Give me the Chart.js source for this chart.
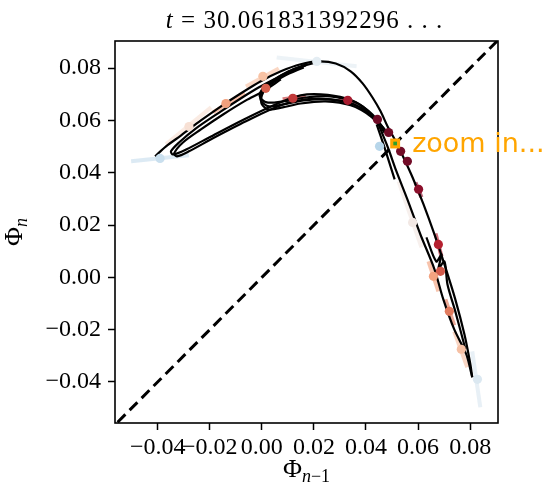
<!DOCTYPE html>
<html>
<head>
<meta charset="utf-8">
<script src="https://cdn.jsdelivr.net/npm/chart.js@4.4.1/dist/chart.umd.min.js"></script>
<style>
  html, body { margin: 0; padding: 0; background: #fff; }
  #wrap { width: 549px; height: 490px; }
</style>
</head>
<body>
<div id="wrap"><canvas id="chart" width="549" height="490"></canvas></div>
<script>
// axis ranges and ticks
const xRange = [-0.0564, 0.0907];
const yRange = [-0.0557, 0.0904];
const xTicks = [-0.04, -0.02, 0, 0.02, 0.04, 0.06, 0.08];
const yTicks = [-0.04, -0.02, 0, 0.02, 0.04, 0.06, 0.08];
const titleTime = '30.061831392296';

// black trajectory strands, [x, y] pairs
const strandOuter = [
  [-0.0410,0.0463],[-0.0368,0.0501],[-0.0310,0.0543],[-0.0234,0.0600],[-0.0157,0.0654],
  [-0.0080,0.0704],[-0.0004,0.0750],[0.0073,0.0788],[0.0149,0.0815],[0.0218,0.0826],
  [0.0284,0.0818],[0.0341,0.0788],[0.0387,0.0742],[0.0425,0.0688],[0.0456,0.0635],
  [0.0483,0.0577],[0.0510,0.0528],[0.0540,0.0467],[0.0579,0.0382],[0.0621,0.0279],
  [0.0663,0.0164],[0.0705,0.0038],[0.0743,-0.0084],[0.0778,-0.0218],[0.0801,-0.0333],
  [0.0808,-0.0382]
];
const strandReturn = [
  [0.0808,-0.0382],[0.0785,-0.0294],[0.0739,-0.0199],[0.0697,-0.0084],[0.0663,0.0031],
  [0.0609,0.0164],[0.0559,0.0298],[0.0517,0.0405],[0.0487,0.0489],[0.0467,0.0539],
  [0.0441,0.0597],[0.0387,0.0654],[0.0322,0.0685],[0.0226,0.0700],[0.0149,0.0696],
  [0.0061,0.0665],[-0.0069,0.0604],[-0.0195,0.0539],[-0.0291,0.0489],[-0.0341,0.0470],
  [-0.0349,0.0482],[-0.0318,0.0516],[-0.0253,0.0570],[-0.0157,0.0635],[-0.0080,0.0685],
  [-0.0011,0.0727],[0.0054,0.0761],[0.0130,0.0799],[0.0207,0.0822]
];
const strandLower = [
  [0.0471,0.0554],[0.0425,0.0616],[0.0360,0.0658],[0.0264,0.0681],[0.0169,0.0681],
  [0.0073,0.0658],[-0.0061,0.0597],[-0.0188,0.0532],[-0.0280,0.0482],[-0.0326,0.0463],
  [-0.0337,0.0474],[-0.0303,0.0516],[-0.0234,0.0566],[-0.0149,0.0623],[-0.0061,0.0677],
  [0.0004,0.0711],[0.0073,0.0757]
];
const hookA = [
  [0.0471,0.0566],[0.0425,0.0623],[0.0360,0.0669],[0.0264,0.0692],[0.0169,0.0688],
  [0.0080,0.0673],[0.0019,0.0669],[-0.0008,0.0692],[0.0004,0.0723],[0.0042,0.0753],
  [0.0103,0.0788],[0.0169,0.0815]
];
const hookB = [
  [0.0475,0.0562],[0.0421,0.0620],[0.0352,0.0662],[0.0257,0.0681],[0.0161,0.0677],
  [0.0084,0.0662],[0.0027,0.0654],[-0.0004,0.0677],[0.0000,0.0711],[0.0031,0.0742],
  [0.0100,0.0780],[0.0169,0.0811]
];
const hookC = [
  [0.0475,0.0558],[0.0418,0.0616],[0.0341,0.0658],[0.0245,0.0673],[0.0149,0.0665],
  [0.0080,0.0650],[0.0027,0.0642],[0.0000,0.0662],[0.0000,0.0696],[0.0019,0.0727],
  [0.0084,0.0769],[0.0161,0.0803]
];
const strandZigzag = [
  [0.0632,0.0153],[0.0670,0.0061],[0.0690,0.0088],[0.0678,0.0031],[0.0701,0.0061],
  [0.0713,-0.0027],[0.0743,-0.0130],[0.0782,-0.0275]
];
const strandShort = [[0.0441,0.0585],[0.0471,0.0497],[0.0510,0.0375]];
const strands = [strandOuter, strandReturn, strandLower, hookA, hookB, hookC, strandZigzag, strandShort];

// sampled points along the trajectory
const dotX = [-0.0391, 0.0211, 0.0452, 0.0828, -0.0280, -0.0138, 0.0004, 0.0015, 0.0119, 0.0330,
              0.0444, 0.0487, 0.0533, 0.0559, 0.0602, 0.0678, 0.0686, 0.0659, 0.0720, 0.0766, 0.0579];
const dotY = [0.0455, 0.0826, 0.0501, -0.0390, 0.0577, 0.0665, 0.0769, 0.0723, 0.0685, 0.0677,
              0.0604, 0.0554, 0.0482, 0.0444, 0.0337, 0.0126, 0.0023, 0.0004, -0.0130, -0.0275, 0.0210];
const dotColors = ['#c9dfee', '#e4edf3', '#b7d6ea', '#dbe8f1', '#f7e0d4', '#f2a07d', '#f8c2a4', '#d6604d',
                   '#c13a3a', '#a81c2f', '#6d0a25', '#6d0a25', '#720c27', '#730c28', '#8c0f2b', '#b5202f',
                   '#d0594a', '#f3a380', '#e17b5e', '#f6c0a4', '#f2e8e4'];
// short direction segment through each point: [x1, y1, x2, y2]
const tangents = [
  [-0.0502,0.0444,-0.0280,0.0467], [0.0057,0.0841,0.0364,0.0807], null, [0.0808,-0.0283,0.0839,-0.0497],
  [-0.0368,0.0509,-0.0195,0.0650], [-0.0188,0.0631,-0.0065,0.0704], [-0.0061,0.0730,0.0065,0.0799], null,
  [0.0080,0.0681,0.0169,0.0692], [0.0295,0.0685,0.0364,0.0665], null, null, null, null,
  [0.0590,0.0363,0.0613,0.0306], [0.0667,0.0168,0.0690,0.0080], null, [0.0640,0.0061,0.0678,-0.0054],
  [0.0705,-0.0084,0.0739,-0.0184], [0.0739,-0.0207,0.0789,-0.0344], [0.0525,0.0367,0.0613,0.0115]
];
const fixedPoint = [0.0512, 0.0512];
const diagonal = [[-0.06, -0.06], [0.1, 0.1]];

const serif = '"Liberation Serif", "DejaVu Serif", serif';

function fmt(v) {
  const s = Math.abs(v).toFixed(2);
  return v < -1e-9 ? '\u2212' + s : s;
}

function withAlpha(hex, a) {
  const n = parseInt(hex.slice(1), 16);
  return 'rgba(' + (n >> 16) + ',' + ((n >> 8) & 255) + ',' + (n & 255) + ',' + a + ')';
}

// draws a run of text pieces centred on cx
function drawRuns(ctx, runs, cx, baseY) {
  let w = 0;
  runs.forEach(r => { ctx.font = r.font; r.w = ctx.measureText(r.t).width; w += r.w; });
  let x = cx - w / 2;
  ctx.textAlign = 'left';
  ctx.textBaseline = 'alphabetic';
  runs.forEach(r => { ctx.font = r.font; ctx.fillText(r.t, x, baseY + (r.dy || 0)); x += r.w; });
}

const datasets = [];

// fixed point on top
datasets.push({
  data: [{ x: fixedPoint[0], y: fixedPoint[1] }],
  pointStyle: 'rect', pointRadius: 2.6, pointBackgroundColor: '#2ca02c', pointBorderWidth: 0, order: 0
});
datasets.push({
  data: [{ x: fixedPoint[0], y: fixedPoint[1] }],
  pointStyle: 'rect', pointRadius: 7, pointBackgroundColor: '#ffa500', pointBorderWidth: 0, order: 0
});
datasets.push({
  data: dotX.map((x, i) => ({ x: x, y: dotY[i] })),
  pointRadius: 4.6, pointBackgroundColor: dotColors, pointBorderWidth: 0, order: 0
});
strands.forEach(s => {
  datasets.push({
    data: s.map(p => ({ x: p[0], y: p[1] })),
    showLine: true, borderColor: '#000', borderWidth: 2.2, pointRadius: 0, tension: 0.3, order: 1
  });
});
datasets.push({
  data: diagonal.map(p => ({ x: p[0], y: p[1] })),
  showLine: true, borderColor: '#000', borderWidth: 3, borderDash: [11, 6], pointRadius: 0, order: 1
});
tangents.forEach((t, i) => {
  if (!t) return;
  datasets.push({
    data: [{ x: t[0], y: t[1] }, { x: t[2], y: t[3] }],
    showLine: true, borderColor: withAlpha(dotColors[i], 0.65), borderWidth: 4, pointRadius: 0, order: 2
  });
});

const decor = {
  id: 'decor',
  afterDatasetsDraw(chart) {
    const { ctx, chartArea: a, scales } = chart;
    ctx.save();
    ctx.strokeStyle = '#000';
    ctx.lineWidth = 1.6;
    ctx.strokeRect(a.left, a.top, a.right - a.left, a.bottom - a.top);

    const px = scales.x.getPixelForValue(fixedPoint[0]);
    const py = scales.y.getPixelForValue(fixedPoint[1]);
    ctx.fillStyle = '#ffa500';
    ctx.font = '27px "DejaVu Sans"';
    ctx.textAlign = 'left';
    ctx.textBaseline = 'alphabetic';
    ctx.fillText('zoom in...', px + 17, py + 9);

    ctx.fillStyle = '#000';
    const cx = (a.left + a.right) / 2;
    ctx.letterSpacing = '1px';
    drawRuns(ctx, [
      { t: 't', font: 'italic 25px ' + serif },
      { t: ' = ' + titleTime + ' . . .', font: '25px ' + serif }
    ], cx - 2, 28);
    ctx.letterSpacing = '0px';

    drawRuns(ctx, [
      { t: '\u03a6', font: '26px ' + serif },
      { t: 'n', font: 'italic 18px ' + serif, dy: 5 },
      { t: '\u22121', font: '18px ' + serif, dy: 5 }
    ], cx, 477);

    ctx.translate(22, (a.top + a.bottom) / 2);
    ctx.rotate(-Math.PI / 2);
    drawRuns(ctx, [
      { t: '\u03a6', font: '26px ' + serif },
      { t: 'n', font: 'italic 18px ' + serif, dy: 5 }
    ], 0, 0);
    ctx.restore();
  }
};

const tickFont = { family: serif, size: 24 };

new Chart(document.getElementById('chart'), {
  type: 'scatter',
  data: { datasets: datasets },
  options: {
    responsive: false,
    animation: false,
    layout: { padding: { top: 41, right: 51, left: 0, bottom: 0 } },
    plugins: { legend: { display: false }, tooltip: { enabled: false } },
    scales: {
      x: {
        type: 'linear', min: xRange[0], max: xRange[1],
        afterBuildTicks: s => { s.ticks = xTicks.map(v => ({ value: v })); },
        afterFit: s => { s.height = 67; },
        grid: { display: true, drawOnChartArea: false, drawTicks: true, tickLength: 7, tickWidth: 1.5, tickColor: '#000' },
        border: { display: false },
        ticks: { autoSkip: false, maxRotation: 0, padding: 3, color: '#000', font: tickFont, callback: fmt }
      },
      y: {
        type: 'linear', min: yRange[0], max: yRange[1],
        afterBuildTicks: s => { s.ticks = yTicks.map(v => ({ value: v })); },
        afterFit: s => { s.width = 115; },
        grid: { display: true, drawOnChartArea: false, drawTicks: true, tickLength: 7, tickWidth: 1.5, tickColor: '#000' },
        border: { display: false },
        ticks: { autoSkip: false, padding: 7, color: '#000', font: tickFont, callback: fmt }
      }
    }
  },
  plugins: [decor]
});
</script>
</body>
</html>
